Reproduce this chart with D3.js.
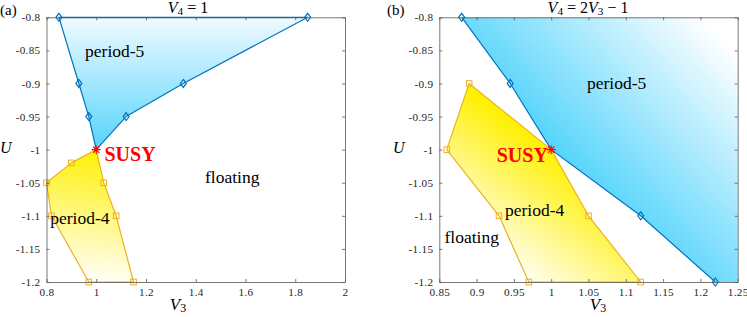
<!DOCTYPE html>
<html lang="en">
<head>
<meta charset="UTF-8">
<title>Phase diagrams in the V3-U plane</title>
<script src="https://d3js.org/d3.v7.min.js"></script>
<style>
  body { margin: 0; background: #fff; }
  svg text { font-family: "Liberation Serif", "Times New Roman", Times, serif; }
  .axis path, .axis line { stroke: #555; stroke-width: 0.8; }
  .axis text { fill: #262626; font-size: 11.2px; letter-spacing: 0.3px;
    font-family: "Liberation Serif", "Times New Roman", Times, serif; }
</style>
</head>
<body>
<svg id="chart" width="747" height="317" font-family="Liberation Serif"></svg>
<script>
// ---- data: panel (a), V4 = 1 ----
const aXTicks = [0.8, 1, 1.2, 1.4, 1.6, 1.8, 2];
const uTicks = [-0.8, -0.85, -0.9, -0.95, -1, -1.05, -1.1, -1.15, -1.2];
const aP5V3 = [0.85, 0.93, 0.97, 1.0, 1.12, 1.35, 1.85];
const aP5U  = [-0.8, -0.9, -0.95, -1.0, -0.95, -0.9, -0.8];
const aP4V3 = [1.0, 0.9, 0.8, 0.82, 0.97, 1.15, 1.08, 1.03];
const aP4U  = [-1.0, -1.02, -1.05, -1.1, -1.2, -1.2, -1.1, -1.05];

// ---- data: panel (b), V4 = 2V3 - 1 ----
const bXTicks = [0.85, 0.9, 0.95, 1, 1.05, 1.1, 1.15, 1.2, 1.25];
const bP5LineV3 = [0.88, 0.945, 1.0, 1.12, 1.22];
const bP5LineU  = [-0.8, -0.9, -1.0, -1.1, -1.2];
const bP5V3 = [0.88, 0.945, 1.0, 1.12, 1.22, 1.25, 1.25];
const bP5U  = [-0.8, -0.9, -1.0, -1.1, -1.2, -1.2, -0.8];
const bP4V3 = [1.0, 0.89, 0.86, 0.93, 0.97, 1.12, 1.05];
const bP4U  = [-1.0, -0.9, -1.0, -1.1, -1.2, -1.2, -1.1];

const susy = [1.0, -1.0];

const svg = d3.select("#chart");
const defs = svg.append("defs");
const yTop = 17.3, yBot = 282;
const y = d3.scaleLinear().domain([-1.2, -0.8]).range([yBot, yTop]);

const blue = "#0072bd", orange = "#edb120";
const cyanFill = "#55d4fc", yellowFill = "#fff000";

function grad(id, p1, p2, c1, c2) {
  const g = defs.append("linearGradient").attr("id", id)
    .attr("gradientUnits", "userSpaceOnUse")
    .attr("x1", p1[0]).attr("y1", p1[1]).attr("x2", p2[0]).attr("y2", p2[1]);
  g.append("stop").attr("offset", 0).attr("stop-color", c1);
  g.append("stop").attr("offset", 1).attr("stop-color", c2);
}

function zip(a, b) { return a.map((v, i) => [v, b[i]]); }
const notSusy = d => !(d[0] === susy[0] && d[1] === susy[1]);

function diamond(g, pts, x) {
  g.selectAll(null).data(pts).enter().append("path")
    .attr("d", d => { const cx = x(d[0]), cy = y(d[1]);
      return `M${cx},${cy-4}L${cx+3},${cy}L${cx},${cy+4}L${cx-3},${cy}Z`; })
    .attr("fill", "none").attr("stroke", blue).attr("stroke-width", 1.2);
}
function squares(g, pts, x) {
  g.selectAll(null).data(pts).enter().append("rect")
    .attr("x", d => x(d[0]) - 2.8).attr("y", d => y(d[1]) - 2.8)
    .attr("width", 5.6).attr("height", 5.6)
    .attr("fill", "none").attr("stroke", orange).attr("stroke-width", 1);
}
function star(g, x) {
  const cx = x(susy[0]), cy = y(susy[1]), r = 4.5;
  const d = `M${cx-r},${cy}L${cx+r},${cy}M${cx},${cy-r}L${cx},${cy+r}` +
    `M${cx-r*0.7},${cy-r*0.7}L${cx+r*0.7},${cy+r*0.7}M${cx-r*0.7},${cy+r*0.7}L${cx+r*0.7},${cy-r*0.7}`;
  g.append("path").attr("d", d).attr("stroke", "red").attr("stroke-width", 1.1);
}
function label(g, x, v3, u, txt, size, bold, color) {
  g.append("text").attr("x", x(v3)).attr("y", y(u))
    .attr("font-size", size).attr("font-weight", bold ? "bold" : "normal")
    .attr("fill", color || "#000").text(txt);
}

function axes(g, x, ticks, fmt) {
  g.append("g").attr("class", "axis").attr("transform", `translate(0,${yBot})`)
    .call(d3.axisBottom(x).tickValues(ticks).tickSize(-3).tickSizeOuter(0).tickPadding(6).tickFormat(fmt));
  g.append("g").attr("class", "axis").attr("transform", `translate(0,${yTop})`)
    .call(d3.axisTop(x).tickValues(ticks).tickSize(-3).tickSizeOuter(0).tickFormat(""));
  g.append("g").attr("class", "axis").attr("transform", `translate(${x.range()[0]},0)`)
    .call(d3.axisLeft(y).tickValues(uTicks).tickSize(-3).tickSizeOuter(0).tickPadding(6)
      .tickFormat(v => String(+v.toFixed(2))));
  g.append("g").attr("class", "axis").attr("transform", `translate(${x.range()[1]},0)`)
    .call(d3.axisRight(y).tickValues(uTicks).tickSize(-3).tickSizeOuter(0).tickFormat(""));
}

function subLabel(g, px, py, parts, size) {
  // parts: [text, italic, subscript]
  const t = g.append("text").attr("x", px).attr("y", py).attr("text-anchor", "middle")
    .attr("font-size", size).attr("fill", "#000");
  parts.forEach(p => {
    const ts = t.append("tspan").text(p[0]);
    if (p[1]) ts.attr("font-style", "italic");
    if (p[2]) ts.attr("font-size", size * 0.7).attr("baseline-shift", "-20%");
  });
}

const line = x => d3.line().x(d => x(d[0])).y(d => y(d[1]));

// ---------- panel (a) ----------
{
  const x = d3.scaleLinear().domain([0.8, 2]).range([46.5, 345]);
  const g = svg.append("g");
  grad("aBlue", [0, y(-0.8)], [0, y(-1.0)], "#f0faff", cyanFill);
  grad("aYel", [x(1.02), y(-1.0)], [x(0.94), y(-1.2)], yellowFill, "#ffffff");
  const p5 = zip(aP5V3, aP5U), p4 = zip(aP4V3, aP4U);
  g.append("path").attr("d", line(x)(p5) + "Z").attr("fill", "url(#aBlue)")
    .attr("stroke", blue).attr("stroke-width", 1.2).attr("stroke-linejoin", "round");
  g.append("path").attr("d", line(x)(p4) + "Z").attr("fill", "url(#aYel)")
    .attr("stroke", orange).attr("stroke-width", 1.2).attr("stroke-linejoin", "round");
  diamond(g, p5.filter(notSusy), x);
  squares(g, p4.filter(notSusy), x);
  axes(g, x, aXTicks, v => String(+v.toFixed(2)));
  star(g, x);
  label(g, x, 0.955, -0.86, "period-5", 17.5);
  label(g, x, 1.437, -1.05, "floating", 17.5);
  label(g, x, 0.815, -1.112, "period-4", 17.5);
  label(g, x, 1.033, -1.017, "SUSY", 20, true, "red");
  subLabel(g, 188, 13, [["V", true], ["4", false, true], [" = 1", false]], 16);
  subLabel(g, 178, 310, [["V", true], ["3", false, true]], 17);
  g.append("text").attr("x", 0).attr("y", 153).attr("font-size", 16).attr("font-style", "italic").text("U");
  g.append("text").attr("x", 0).attr("y", 15).attr("font-size", 15).text("(a)");
}

// ---------- panel (b) ----------
{
  const x = d3.scaleLinear().domain([0.85, 1.25]).range([439.3, 737.7]);
  const g = svg.append("g");
  const s = [x(susy[0]), y(susy[1])];
  grad("bBlue", s, [s[0] + 145, s[1] - 139], cyanFill, "#ffffff");
  grad("bYel", s, [s[0] - 75, s[1] + 100], yellowFill, "#ffffff");
  const p5 = zip(bP5V3, bP5U), p5l = zip(bP5LineV3, bP5LineU), p4 = zip(bP4V3, bP4U);
  g.append("path").attr("d", line(x)(p5) + "Z").attr("fill", "url(#bBlue)").attr("stroke", "none");
  g.append("path").attr("d", line(x)(p5l)).attr("fill", "none")
    .attr("stroke", blue).attr("stroke-width", 1.2);
  g.append("path").attr("d", line(x)(p4) + "Z").attr("fill", "url(#bYel)")
    .attr("stroke", orange).attr("stroke-width", 1.2).attr("stroke-linejoin", "round");
  diamond(g, p5l.filter(notSusy), x);
  squares(g, p4.filter(notSusy), x);
  axes(g, x, bXTicks, v => String(+v.toFixed(2)));
  star(g, x);
  label(g, x, 1.048, -0.908, "period-5", 17.5);
  label(g, x, 0.927, -1.019, "SUSY", 20, true, "red");
  label(g, x, 0.938, -1.1, "period-4", 17.5);
  label(g, x, 0.857, -1.141, "floating", 17.5);
  subLabel(g, 588, 13, [["V", true], ["4", false, true], [" = 2", false], ["V", true], ["3", false, true], [" \u2212 1", false]], 16);
  subLabel(g, 598, 310, [["V", true], ["3", false, true]], 17);
  g.append("text").attr("x", 393).attr("y", 153).attr("font-size", 16).attr("font-style", "italic").text("U");
  g.append("text").attr("x", 387).attr("y", 15).attr("font-size", 15).text("(b)");
}
</script>
</body>
</html>
